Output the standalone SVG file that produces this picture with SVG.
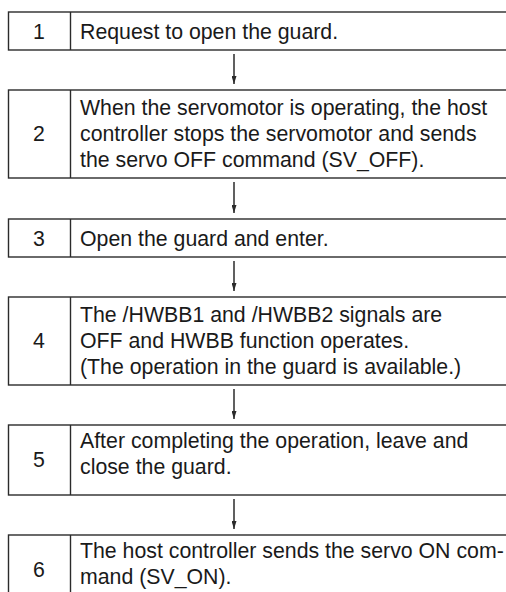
<svg xmlns="http://www.w3.org/2000/svg" width="506" height="592" viewBox="0 0 506 592">
<style>
.box{fill:#fff;stroke:#2b2b2b;stroke-width:1.4}
.div{stroke:#2b2b2b;stroke-width:1.4}
.t{font-family:"Liberation Sans",Arial,sans-serif;font-size:21.3px;fill:#1a1a1a}
.n{font-family:"Liberation Sans",Arial,sans-serif;font-size:21.3px;fill:#1a1a1a;text-anchor:middle}
.c{stroke:#2b2b2b;stroke-width:1.5;fill:none;marker-end:url(#ah)}
</style>
<defs>
<marker id="ah" viewBox="0 0 8 5" refX="8" refY="2.5" markerWidth="8" markerHeight="5" markerUnits="userSpaceOnUse" orient="auto">
<path d="M0,0 L8,2.5 L0,5 Z" fill="#2b2b2b"/>
</marker>
</defs>
<g id="step1">
<rect class="box" x="8.5" y="12" width="510" height="38"/>
<line class="div" x1="70.5" y1="12" x2="70.5" y2="50"/>
<text class="n" x="39" y="38.5">1</text>
<text class="t" x="80" y="38.5">Request to open the guard.</text>
</g>
<g id="step2">
<rect class="box" x="8.5" y="90" width="510" height="88"/>
<line class="div" x1="70.5" y1="90" x2="70.5" y2="178"/>
<text class="n" x="39" y="141">2</text>
<text class="t" x="80" y="115">When the servomotor is operating, the host</text>
<text class="t" x="80" y="141">controller stops the servomotor and sends</text>
<text class="t" x="80" y="167">the servo OFF command (SV_OFF).</text>
</g>
<g id="step3">
<rect class="box" x="8.5" y="219" width="510" height="38"/>
<line class="div" x1="70.5" y1="219" x2="70.5" y2="257"/>
<text class="n" x="39" y="245.5">3</text>
<text class="t" x="80" y="245.5">Open the guard and enter.</text>
</g>
<g id="step4">
<rect class="box" x="8.5" y="297" width="510" height="88"/>
<line class="div" x1="70.5" y1="297" x2="70.5" y2="385"/>
<text class="n" x="39" y="348">4</text>
<text class="t" x="80" y="322">The /HWBB1 and /HWBB2 signals are</text>
<text class="t" x="80" y="348">OFF and HWBB function operates.</text>
<text class="t" x="80" y="374">(The operation in the guard is available.)</text>
</g>
<g id="step5">
<rect class="box" x="8.5" y="425" width="510" height="70"/>
<line class="div" x1="70.5" y1="425" x2="70.5" y2="495"/>
<text class="n" x="39" y="467">5</text>
<text class="t" x="80" y="448">After completing the operation, leave and</text>
<text class="t" x="80" y="474">close the guard.</text>
</g>
<g id="step6">
<rect class="box" x="8.5" y="535" width="510" height="70"/>
<line class="div" x1="70.5" y1="535" x2="70.5" y2="605"/>
<text class="n" x="39" y="577">6</text>
<text class="t" x="80" y="558">The host controller sends the servo ON com-</text>
<text class="t" x="80" y="584">mand (SV_ON).</text>
</g>
<g id="connectors">
<line class="c" x1="234" y1="54" x2="234" y2="84"/>
<line class="c" x1="234" y1="182" x2="234" y2="213"/>
<line class="c" x1="234" y1="261" x2="234" y2="291"/>
<line class="c" x1="234" y1="389" x2="234" y2="419"/>
<line class="c" x1="234" y1="499" x2="234" y2="529"/>
</g>
</svg>
